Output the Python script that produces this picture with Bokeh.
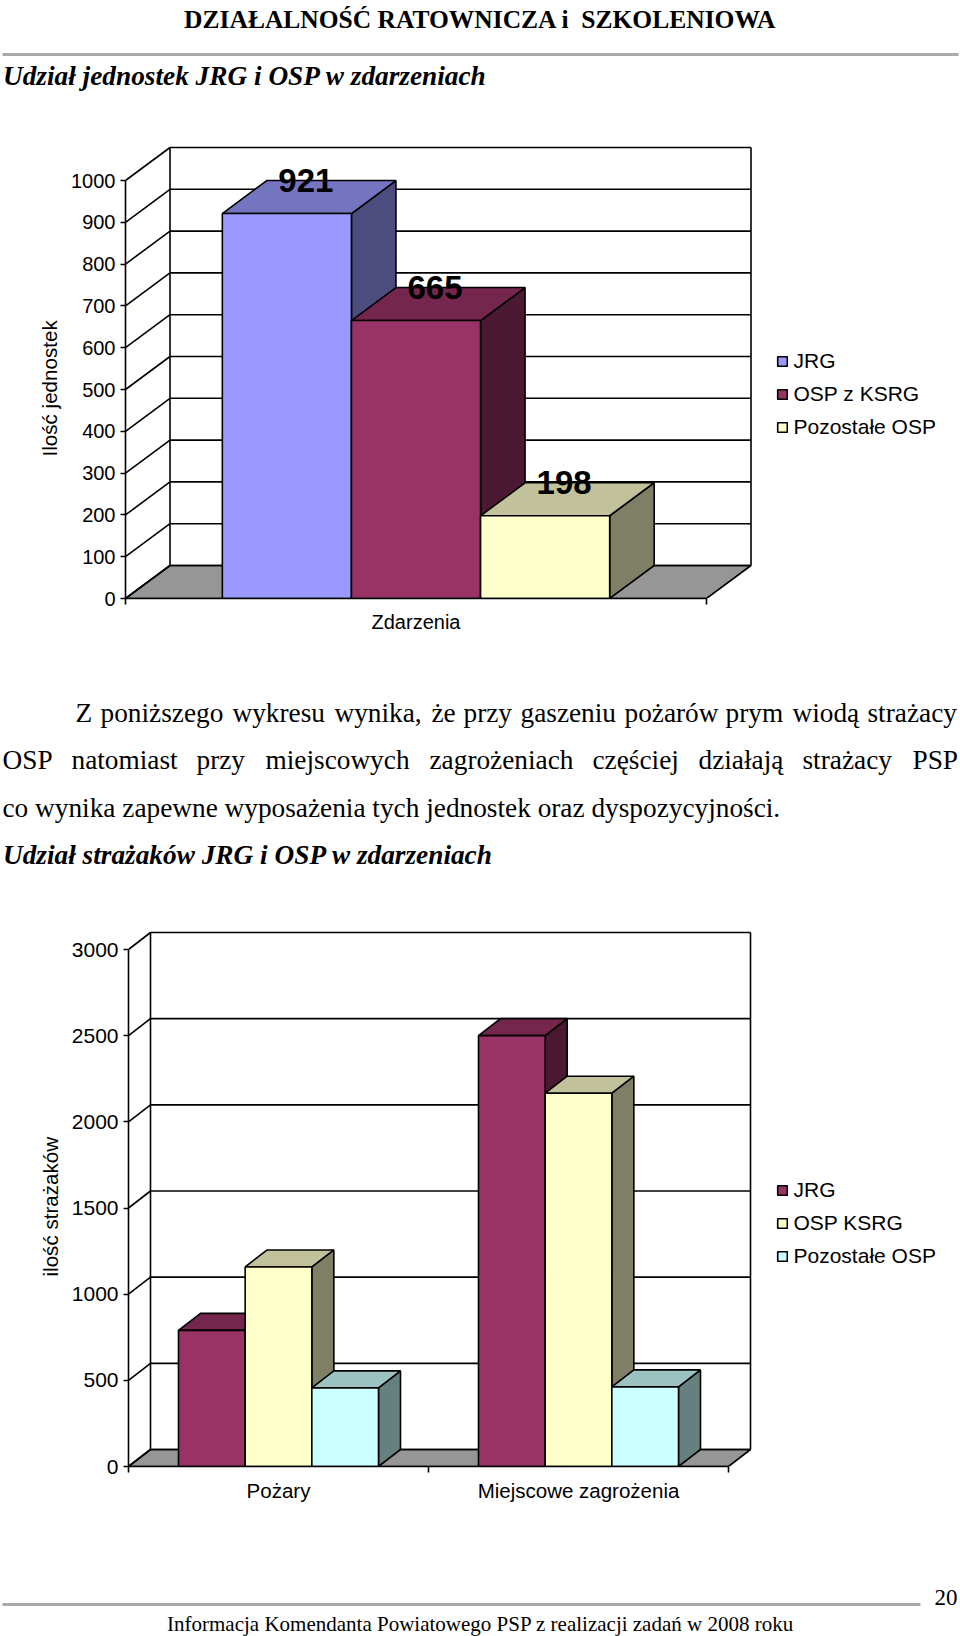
from bokeh.plotting import figure
from bokeh.layouts import column
from bokeh.models import Range1d, FixedTicker, Legend, LegendItem, ColumnDataSource, Title
from bokeh.core.properties import value
from bokeh.embed import file_html
from bokeh.resources import INLINE

SANS = "Liberation Sans"
SERIF = "Liberation Serif"

# ---- data ----
c1_categories = ["Zdarzenia"]
c1_series = ["JRG", "OSP z KSRG", "Pozostałe OSP"]
c1_values = [[921], [665], [198]]
c1_colors = ["#9999FF", "#993366", "#FFFFCC"]
c1_ticks = [0, 100, 200, 300, 400, 500, 600, 700, 800, 900, 1000]

c2_categories = ["Pożary", "Miejscowe zagrożenia"]
c2_series = ["JRG", "OSP KSRG", "Pozostałe OSP"]
c2_values = [[790, 2500], [1158, 2166], [456, 462]]
c2_colors = ["#993366", "#FFFFCC", "#CCFFFF"]
c2_ticks = [0, 500, 1000, 1500, 2000, 2500, 3000]

header_title = "DZIAŁALNOŚĆ RATOWNICZA i \u00a0SZKOLENIOWA"
subtitle_1 = "Udział jednostek JRG i OSP w zdarzeniach"
subtitle_2 = "Udział strażaków JRG i OSP w zdarzeniach"
line1_words = ["Z", "poniższego", "wykresu", "wynika,", "że", "przy", "gaszeniu", "pożarów", "prym", "wiodą", "strażacy"]
line1_x = [75, 100, 232, 334, 431, 463, 520, 624, 725, 792, 867]
line2_words = ["OSP", "natomiast", "przy", "miejscowych", "zagrożeniach", "częściej", "działają", "strażacy", "PSP"]
line2_x = [2, 71, 196, 265, 429, 592, 698, 802, 912]
line3 = "co wynika zapewne wyposażenia tych jednostek oraz dyspozycyjności."
footer_text = "Informacja Komendanta Powiatowego PSP z realizacji zadań w 2008 roku"
page_number = "20"


def shade(hex_color, k):
    r, g, b = (int(hex_color[i:i + 2], 16) for i in (1, 3, 5))
    return "#%02x%02x%02x" % (int(r * k), int(g * k), int(b * k))


def text_fig(top, bottom):
    p = figure(width=960, height=bottom - top, x_range=Range1d(0, 960), y_range=Range1d(bottom, top),
               output_backend="svg", toolbar_location=None, min_border=0, frame_align=False)
    p.axis.visible = False
    p.grid.visible = False
    p.outline_line_color = None
    return p


def put(p, x, y, s, font, size, style="normal", align="left"):
    p.text(x=[x], y=[y], text=[s], text_font=value(font), text_font_size=size, text_font_style=style,
           text_align=align, text_baseline="alphabetic", text_color="black")


def chart(fig_top, fig_bottom, axis_x, right_x, y0, y_top_tick, wall_top_px, depth_px, cats, series, vals, cols,
          ticks, ylabel, ylabel_bottom, ylabel_standoff, show_labels, legend_top, tick_size, cat_size, xlabel_standoff):
    n = len(cats)
    ymax = ticks[-1]
    px_per_cat = (right_x - axis_x) / n
    px_per_val = (y0 - y_top_tick) / ymax
    frame_top = wall_top_px - 3
    xr = Range1d(0, (960 - axis_x) / px_per_cat)
    yr = Range1d(0, (y0 - frame_top) / px_per_val)
    p = figure(width=960, height=fig_bottom - fig_top, x_range=xr, y_range=yr, output_backend="svg",
               toolbar_location=None, min_border_left=axis_x, min_border_right=0,
               min_border_top=frame_top - fig_top, min_border_bottom=fig_bottom - y0, frame_align=False)
    p.grid.visible = False
    p.outline_line_color = None
    dx = depth_px[0] / px_per_cat
    dy = depth_px[1] / px_per_val
    lw = 1.6

    # floor and walls
    p.patch([0, n, n + dx, dx], [0, 0, dy, dy], fill_color="#969696", line_color="black", line_width=lw)
    p.segment(x0=[dx] * len(ticks), y0=[t + dy for t in ticks], x1=[n + dx] * len(ticks), y1=[t + dy for t in ticks],
              line_color="black", line_width=lw)
    p.segment(x0=[0] * len(ticks), y0=ticks, x1=[dx] * len(ticks), y1=[t + dy for t in ticks],
              line_color="black", line_width=lw)
    p.segment(x0=[dx, n + dx], y0=[dy, dy], x1=[dx, n + dx], y1=[ymax + dy, ymax + dy],
              line_color="black", line_width=lw)

    # bars, left to right so nearer ones hide the sides of earlier ones
    inset, bw = 1 / 6, 2 / 9
    items = []
    for j, (name, v, c) in enumerate(zip(series, vals, cols)):
        left = [i + inset + j * bw for i in range(n)]
        right = [l + bw for l in left]
        p.patches([[r, r + dx, r + dx, r] for r in right],
                  [[0, dy, t + dy, t] for t in v],
                  fill_color=shade(c, 0.5), line_color="black", line_width=lw)
        p.patches([[l, r, r + dx, l + dx] for l, r in zip(left, right)],
                  [[t, t, t + dy, t + dy] for t in v],
                  fill_color=shade(c, 0.76), line_color="black", line_width=lw)
        src = ColumnDataSource(dict(left=left, right=right, top=v, bottom=[0] * n))
        front = p.quad(left="left", right="right", top="top", bottom="bottom", source=src,
                       fill_color=c, line_color="black", line_width=lw)
        items.append(LegendItem(label=name, renderers=[front]))
        if show_labels:
            p.text(x=[(l + r) / 2 + 19 / px_per_cat for l, r in zip(left, right)], y=[t + dy for t in v],
                   text=[str(t) for t in v], text_font=value(SANS), text_font_size="33px",
                   text_font_style="bold", text_align="center", text_baseline="middle", text_color="black")

    # axes
    ax = p.yaxis[0]
    ax.ticker = FixedTicker(ticks=ticks)
    ax.bounds = (0, ymax)
    ax.axis_line_color = "black"
    ax.axis_line_width = lw
    ax.major_tick_line_color = "black"
    ax.major_tick_line_width = lw
    ax.major_tick_in = 0
    ax.major_tick_out = 5
    ax.minor_tick_line_color = None
    ax.major_label_standoff = 5
    ax.major_label_text_font = SANS
    ax.major_label_text_font_size = tick_size
    ax.major_label_text_color = "black"

    p.add_layout(Title(text=ylabel, align="left", offset=y0 - ylabel_bottom, standoff=ylabel_standoff,
                       text_font=SANS, text_font_size="20.6px", text_font_style="normal", text_color="black"),
                 "left")

    bx = p.xaxis[0]
    centers = [i + 0.5 for i in range(n)]
    bx.ticker = FixedTicker(ticks=centers, minor_ticks=list(range(n + 1)))
    bx.major_label_overrides = {c: s for c, s in zip(centers, cats)}
    bx.bounds = (0, n)
    bx.axis_line_color = "black"
    bx.axis_line_width = lw
    bx.major_tick_line_color = None
    bx.major_tick_in = 0
    bx.major_tick_out = 0
    bx.minor_tick_line_color = "black"
    bx.minor_tick_line_width = lw
    bx.minor_tick_in = 0
    bx.minor_tick_out = 6
    bx.major_label_standoff = xlabel_standoff
    bx.major_label_text_font = SANS
    bx.major_label_text_font_size = cat_size
    bx.major_label_text_color = "black"

    legend = Legend(items=items, location=(775.5 - axis_x, y0 - legend_top - 99), orientation="vertical",
                    border_line_color=None, background_fill_alpha=0, padding=0, margin=0,
                    glyph_width=12, glyph_height=12, label_standoff=6, spacing=9, label_height=24,
                    label_text_font=SANS, label_text_font_size="21px", label_text_color="black")
    p.add_layout(legend)
    return p


# ---- page pieces ----
head = text_fig(0, 130)
put(head, 480, 18.5, header_title, SERIF, "25.5px", "bold", "center")
head.line([2, 958], [54, 54], line_color="#aaaaaa", line_width=3)
put(head, 2.5, 75.5, subtitle_1, SERIF, "27.3px", "bold italic")

c1 = chart(130, 690, 125, 706, 598, 180, 147, (44.5, 33), c1_categories, c1_series, c1_values, c1_colors,
           c1_ticks, "Ilość jednostek", 456, 16, True, 339.6, "20px", "20px", 6)

body = text_fig(690, 900)
for w, x in zip(line1_words, line1_x):
    put(body, x, 712.6, w, SERIF, "27.3px")
for w, x in zip(line2_words, line2_x):
    put(body, x, 759.6, w, SERIF, "27.3px")
put(body, 2, 807.6, line3, SERIF, "27.3px")
put(body, 2.5, 854.6, subtitle_2, SERIF, "27.3px", "bold italic")

c2 = chart(900, 1510, 128, 728, 1466, 949, 932, (22, 17), c2_categories, c2_series, c2_values, c2_colors,
           c2_ticks, "ilość strażaków", 1276, 14, False, 1169.3, "21px", "20.5px", 6)

foot = text_fig(1510, 1636)
foot.line([2, 920], [1604, 1604], line_color="#aaaaaa", line_width=3)
put(foot, 934, 1596.6, page_number, SERIF, "23px")
put(foot, 480, 1623.7, footer_text, SERIF, "21px", "normal", "center")

page = column(head, c1, body, c2, foot, spacing=0)
open("out.html", "w").write(file_html(page, INLINE))
